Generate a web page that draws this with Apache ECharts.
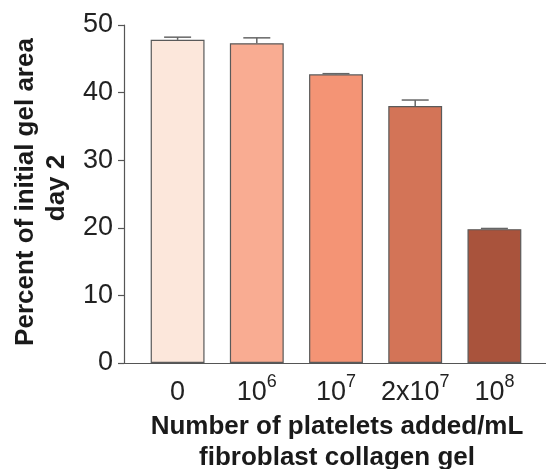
<!DOCTYPE html>
<html>
<head>
<meta charset="utf-8">
<script src="https://cdn.jsdelivr.net/npm/echarts@6/dist/echarts.min.js"></script>
<style>html,body{margin:0;padding:0;background:#fff}#c{width:546px;height:469px}</style>
</head>
<body>
<div id="c"></div>
<script>
var categories = ['0', '10{s|6}', '10{s|7}', '2x10{s|7}', '10{s|8}'];
var values = [47.8, 47.3, 42.7, 38.0, 19.8];
var errorTops = [48.2, 48.1, 42.8, 38.9, 19.9];
var barColors = ['#FCE7DB', '#F9AC92', '#F49475', '#D37457', '#A9533C'];
var yTicks = [0, 10, 20, 30, 40, 50];
var xTitle = ['Number of platelets added/mL', 'fibroblast collagen gel'];
var yTitle = ['Percent of initial gel area', 'day 2'];

var FONT = '"Liberation Sans", Arial, Helvetica, sans-serif';
var chart = echarts.init(document.getElementById('c'), null, {renderer: 'canvas'});
var axisColor = '#555';

var option = {
  animation: false,
  grid: [
    {left: 124, right: 0, top: 25, bottom: 106},
    {left: 138, right: 12, top: 25, bottom: 106}
  ],
  xAxis: [
    {gridIndex: 0, type: 'value', min: 0, max: 1, axisLine: {show: true, lineStyle: {color: axisColor, width: 1.2}},
     axisTick: {show: false}, axisLabel: {show: false}, splitLine: {show: false}},
    {gridIndex: 1, type: 'category', data: categories.map(function (c) { return c; }),
     axisLine: {show: false}, axisTick: {show: false}, splitLine: {show: false},
     axisLabel: {
       margin: 10, interval: 0,
       formatter: function (v) {
         var i = v.indexOf('{');
         if (i < 0) return '{n|' + v + '}';
         return '{n|' + v.slice(0, i) + '}' + v.slice(i);
       },
       rich: {
         n: {fontSize: 27, fontFamily: FONT, color: '#222', verticalAlign: 'bottom', padding: [6, 0, 0, 0]},
         s: {fontSize: 18, fontFamily: FONT, color: '#222', verticalAlign: 'top'}
       }
     }}
  ],
  yAxis: [
    {gridIndex: 0, type: 'value', min: yTicks[0], max: yTicks[yTicks.length - 1], interval: 10,
     axisLine: {show: true, lineStyle: {color: axisColor, width: 1.2}},
     axisTick: {show: true, length: 6, lineStyle: {color: axisColor, width: 1.2}},
     axisLabel: {fontSize: 27, fontFamily: FONT, color: '#222', margin: 11},
     splitLine: {show: false}},
    {gridIndex: 1, type: 'value', min: yTicks[0], max: yTicks[yTicks.length - 1], interval: 10, show: false}
  ],
  series: [
    {
      type: 'bar', xAxisIndex: 1, yAxisIndex: 1, barWidth: '68%',
      data: values.map(function (v, i) {
        return {value: v, itemStyle: {color: barColors[i], borderColor: '#5a5a5a', borderWidth: 1.2}};
      }),
      z: 2
    },
    {
      type: 'custom', xAxisIndex: 1, yAxisIndex: 1, z: 3,
      data: values.map(function (v, i) { return [i, v, errorTops[i]]; }),
      renderItem: function (params, api) {
        var base = api.coord([api.value(0), api.value(1)]);
        var top = api.coord([api.value(0), api.value(2)]);
        var hw = 13.5;
        return {
          type: 'group',
          children: [
            {type: 'line', shape: {x1: base[0], y1: base[1], x2: top[0], y2: top[1]},
             style: {stroke: '#666', lineWidth: 1.5}},
            {type: 'line', shape: {x1: top[0] - hw, y1: top[1], x2: top[0] + hw, y2: top[1]},
             style: {stroke: '#666', lineWidth: 1.5}}
          ]
        };
      }
    }
  ],
  graphic: [
    {type: 'text', x: 337, y: 427, style: {text: xTitle[0], font: 'bold 26px ' + FONT, fill: '#1a1a1a', align: 'center', verticalAlign: 'middle'}},
    {type: 'text', x: 337, y: 458, style: {text: xTitle[1], font: 'bold 26px ' + FONT, fill: '#1a1a1a', align: 'center', verticalAlign: 'middle'}},
    {type: 'text', x: 26, y: 192, rotation: Math.PI / 2, style: {text: yTitle[0], font: 'bold 26px ' + FONT, fill: '#1a1a1a', align: 'center', verticalAlign: 'middle'}},
    {type: 'text', x: 57, y: 188, rotation: Math.PI / 2, style: {text: yTitle[1], font: 'bold 26px ' + FONT, fill: '#1a1a1a', align: 'center', verticalAlign: 'middle'}}
  ]
};
chart.setOption(option);
</script>
</body>
</html>
